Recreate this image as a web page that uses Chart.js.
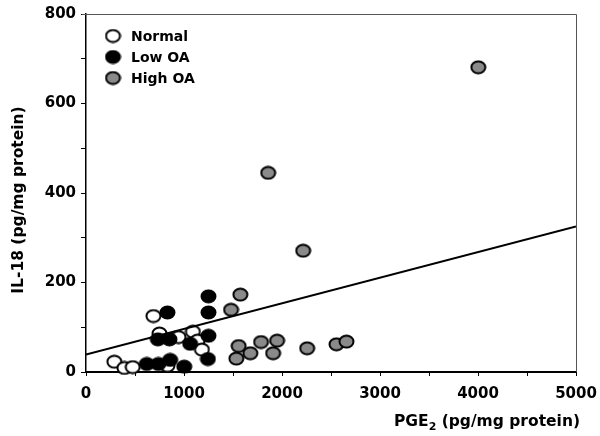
<!DOCTYPE html>
<html>
<head>
<meta charset="utf-8">
<script src="https://cdn.jsdelivr.net/npm/chart.js@4"></script>
<style>
  html, body { margin: 0; padding: 0; background: #fff; }
</style>
</head>
<body>
<canvas id="scatterChart" width="600" height="436"></canvas>
<script>
// values: [PGE2, IL-18]
const normalPts = [[289, 23], [392, 9], [477, 11], [688, 125], [750, 86], [944, 78], [1091, 90], [1138, 70], [1183, 50], [831, 14]];
const lowPts = [[831, 133], [1250, 169], [1250, 133], [1250, 81], [1244, 29], [1063, 63], [733, 73], [852, 73], [620, 18], [739, 18], [859, 27], [1002, 12]];
const highPts = [[1575, 173], [1480, 139], [1558, 58], [1677, 42], [1534, 30], [1786, 67], [1950, 70], [1909, 42], [2257, 53], [2556, 62], [2658, 68], [1859, 445], [2216, 271], [4003, 681]];
const fitX = [0, 5000];
const fitY = [39, 325];

const seriesNames = ['Normal', 'Low OA', 'High OA'];
const seriesFill = ['#ffffff', '#000000', '#8a8a8a'];

const FONT = 'DejaVu Sans';

function dot(fill) {
  const c = document.createElement('canvas');
  c.width = 17; c.height = 15;
  const g = c.getContext('2d');
  g.beginPath();
  g.ellipse(8.5, 7.5, 7, 6, 0, 0, Math.PI * 2);
  g.fillStyle = fill;
  g.fill();
  g.lineWidth = 2;
  g.strokeStyle = '#000';
  g.stroke();
  return c;
}
const dots = seriesFill.map(dot);

const toXY = arr => arr.map(p => ({ x: p[0], y: p[1] }));

const extras = {
  id: 'extras',
  afterDraw(chart) {
    const { ctx, chartArea: a } = chart;
    ctx.save();
    // thin frame top/right
    ctx.strokeStyle = '#555';
    ctx.lineWidth = 1;
    ctx.beginPath();
    ctx.moveTo(a.left - 4, a.top + 0.5);
    ctx.lineTo(a.right + 0.5, a.top + 0.5);
    ctx.lineTo(a.right + 0.5, a.bottom);
    ctx.stroke();

    ctx.fillStyle = '#000';
    // y title
    ctx.save();
    ctx.translate(19, 200);
    ctx.rotate(-Math.PI / 2);
    ctx.font = 'bold 15.5px ' + FONT;
    ctx.textAlign = 'center';
    ctx.textBaseline = 'middle';
    ctx.fillText('IL-18 (pg/mg protein)', 0, 0);
    ctx.restore();

    // x title with subscript
    const main = 'bold 15.5px ' + FONT, sub = 'bold 11px ' + FONT;
    ctx.textBaseline = 'alphabetic';
    ctx.textAlign = 'left';
    ctx.font = main;
    const w1 = ctx.measureText('PGE').width;
    const w3 = ctx.measureText(' (pg/mg protein)').width;
    ctx.font = sub;
    const w2 = ctx.measureText('2').width;
    let x = 580 - (w1 + w2 + w3);
    const base = 426;
    ctx.font = main;
    ctx.fillText('PGE', x, base);
    ctx.font = sub;
    ctx.fillText('2', x + w1, base + 4);
    ctx.font = main;
    ctx.fillText(' (pg/mg protein)', x + w1 + w2, base);

    // legend
    ctx.font = 'bold 14px ' + FONT;
    ctx.textBaseline = 'middle';
    seriesNames.forEach((name, i) => {
      const cy = 36 + i * 21;
      ctx.drawImage(dots[i], 113 - 8.5, cy - 7.5);
      ctx.fillText(name, 131, cy + 1);
    });
    ctx.restore();
  }
};

new Chart(document.getElementById('scatterChart'), {
  type: 'scatter',
  data: {
    datasets: [
      {
        type: 'line',
        data: fitX.map((v, i) => ({ x: v, y: fitY[i] })),
        borderColor: '#000',
        borderWidth: 2,
        pointRadius: 0,
        fill: false
      },
      { label: seriesNames[2], data: toXY(highPts), pointStyle: dots[2], clip: false },
      { label: seriesNames[1], data: toXY(lowPts), pointStyle: dots[1], clip: false },
      { label: seriesNames[0], data: toXY(normalPts), pointStyle: dots[0], clip: false }
    ]
  },
  options: {
    responsive: false,
    animation: false,
    layout: { padding: { top: 14, right: 24, left: 0, bottom: 0 } },
    plugins: { legend: { display: false }, tooltip: { enabled: false } },
    scales: {
      x: {
        type: 'linear',
        min: 0,
        max: 5000,
        afterFit: s => { s.height = 64; s.paddingRight = 0; s.paddingLeft = 0; },
        ticks: {
          stepSize: 500,
          autoSkip: false,
          maxRotation: 0,
          padding: 9,
          color: '#000',
          font: { family: FONT, size: 15, weight: 'bold' },
          callback: v => (v % 1000 === 0 ? v : '')
        },
        grid: { drawOnChartArea: false, tickLength: 4, color: '#000' },
        border: { color: '#000', width: 2 }
      },
      y: {
        min: 0,
        max: 800,
        afterFit: s => { s.width = 86; },
        ticks: {
          stepSize: 100,
          autoSkip: false,
          padding: 5,
          color: '#000',
          font: { family: FONT, size: 15, weight: 'bold' },
          callback: v => (v % 200 === 0 ? v : '')
        },
        grid: { drawOnChartArea: false, tickLength: 5, color: '#000' },
        border: { color: '#000', width: 1.5 }
      }
    }
  },
  plugins: [extras]
});
</script>
</body>
</html>
